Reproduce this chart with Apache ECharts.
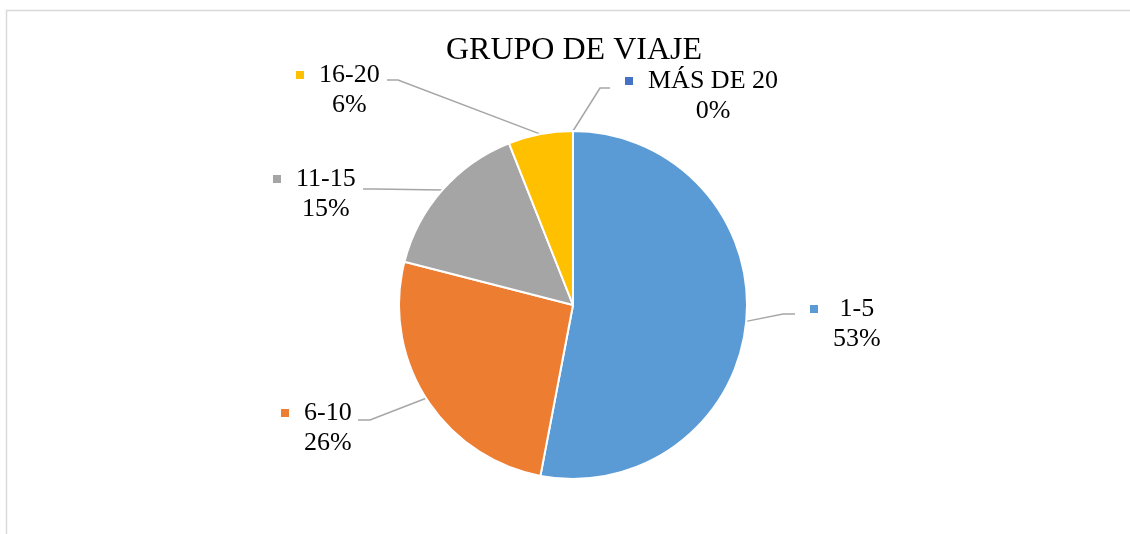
<!DOCTYPE html>
<html>
<head>
<meta charset="utf-8">
<script src="https://cdn.jsdelivr.net/npm/echarts@6/dist/echarts.min.js"></script>
<style>
  html, body { margin: 0; padding: 0; background: #fff; }
  #chart { width: 1130px; height: 534px; }
</style>
</head>
<body>
<div id="chart"></div>
<script>
// datos
const categories = ['1-5', '6-10', '11-15', '16-20', 'MÁS DE 20']
const percents = [53, 26, 15, 6, 0]
const colors = ['#5B9BD5', '#ED7D31', '#A5A5A5', '#FFC000', '#4472C4']

// posicion de etiquetas (esquina sup. izq.) y lineas guia
const labelPos = [[810, 294], [281, 398], [273, 164], [296, 60], [625, 66]]
const guidePts = [
  [[783, 314], [795, 314]],
  [[370, 420], [358, 420]],
  [[375, 189], [363, 189]],
  [[398, 80], [387, 80]],
  [[600, 88], [610, 88]]
]

const FONT = '"Liberation Serif", "Times New Roman", serif'
const FS = 26
const ctx = document.createElement('canvas').getContext('2d')
ctx.font = FS + 'px ' + FONT
const measure = t => ctx.measureText(t).width

// estilos rich: marcador + huecos para centrar nombre y porcentaje
const rich = {
  n: { fontSize: FS, fontFamily: FONT, color: '#000', lineHeight: 30 }
}
categories.forEach((c, i) => {
  const pct = percents[i] + '%'
  const w1 = measure(c)
  const w2 = measure(pct)
  const block = Math.max(w1, w2)
  rich['m' + i] = { width: 8, height: 8, backgroundColor: colors[i] }
  rich['g' + i] = { width: 15 + (block - w1) / 2 }
  rich['s' + i] = { width: 23 + (block - w2) / 2 }
})

const chart = echarts.init(document.getElementById('chart'))
chart.setOption({
  animation: false,
  backgroundColor: '#fff',
  title: {
    text: 'GRUPO DE VIAJE',
    left: 446,
    top: 35,
    padding: 0,
    textStyle: { fontFamily: FONT, fontSize: 32, fontWeight: 'normal', color: '#000' }
  },
  graphic: [{
    type: 'rect',
    shape: { x: 6.5, y: 10.5, width: 1200, height: 700 },
    style: { fill: 'none', stroke: '#d9d9d9', lineWidth: 1.5 },
    silent: true
  }],
  series: [{
    type: 'pie',
    center: [573, 305],
    radius: 174,
    startAngle: 90,
    clockwise: true,
    itemStyle: { borderColor: '#fff', borderWidth: 2 },
    label: {
      show: true,
      position: 'outside',
      align: 'left',
      lineHeight: 30,
      fontFamily: FONT,
      fontSize: FS,
      color: '#000',
      formatter: p => {
        const i = p.dataIndex
        return '{m' + i + '| }{g' + i + '| }{n|' + p.name + '}\n{s' + i + '| }{n|' + percents[i] + '%}'
      },
      rich: rich
    },
    labelLine: {
      show: true,
      lineStyle: { color: '#a6a6a6', width: 1.5 }
    },
    labelLayout: params => {
      const i = params.dataIndex
      const start = params.labelLinePoints ? params.labelLinePoints[0] : [573, 131]
      return {
        x: labelPos[i][0],
        y: labelPos[i][1],
        align: 'left',
        verticalAlign: 'top',
        labelLinePoints: [start, guidePts[i][0], guidePts[i][1]]
      }
    },
    data: categories.map((c, i) => ({
      name: c,
      value: percents[i],
      itemStyle: { color: colors[i] }
    }))
  }]
})
</script>
</body>
</html>
